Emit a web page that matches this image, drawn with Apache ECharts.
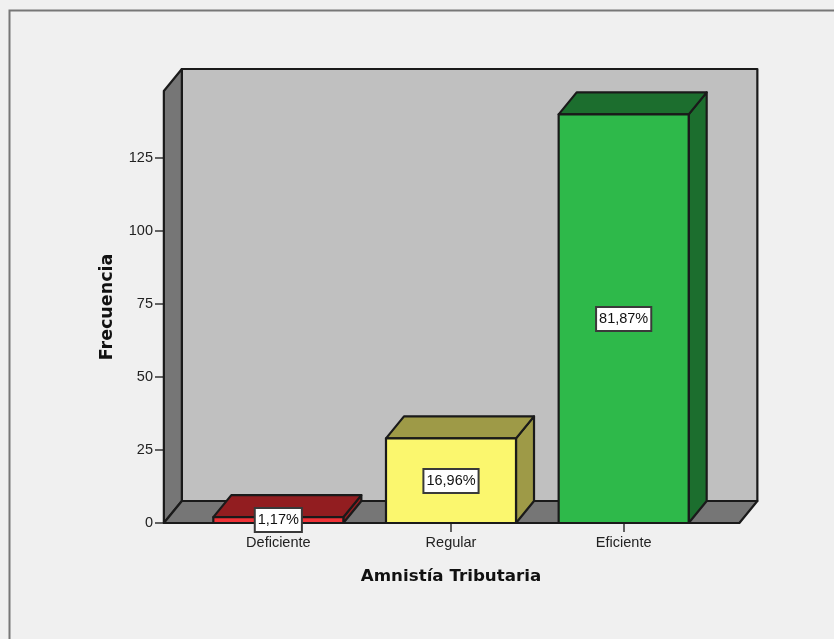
<!DOCTYPE html>
<html>
<head>
<meta charset="utf-8">
<style>html,body{margin:0;padding:0;background:#f0f0f0;overflow:hidden}#c{width:834px;height:639px}</style>
<script src="https://cdn.jsdelivr.net/npm/echarts@6/dist/echarts.min.js"></script>
</head>
<body>
<div id="c"></div>
<script>
const categories = ['Deficiente', 'Regular', 'Eficiente'];
const frequencies = [2, 29, 140];
const percentLabels = ['1,17%', '16,96%', '81,87%'];
const yTicks = [0, 25, 50, 75, 100, 125];
const yMax = 148;
const frontColors = ['#f03237', '#fbf76e', '#2eb94a'];
const darkColors = ['#921d20', '#9e9a47', '#1c6e2e'];

const DX = 18, DY = -22, INK = '#1a1a1a';
const chart = echarts.init(document.getElementById('c'), null, {renderer: 'canvas'});

function poly(points, fill) {
  return {type: 'polygon', shape: {points}, style: {fill, stroke: INK, lineWidth: 2.2, lineJoin: 'round'}};
}

function renderRoom(params, api) {
  const band = api.size([1, 0])[0];
  const a = api.coord([0, 0]), b = api.coord([2, 0]), t = api.coord([0, yMax]);
  const l = a[0] - band * 0.663, r = b[0] + band * 0.67, y0 = a[1], y1 = t[1];
  return {type: 'group', children: [
    poly([[l + DX, y0 + DY], [r + DX, y0 + DY], [r + DX, y1 + DY], [l + DX, y1 + DY]], '#c0c0c0'),
    poly([[l, y0], [l + DX, y0 + DY], [l + DX, y1 + DY], [l, y1]], '#767676'),
    poly([[l, y0], [r, y0], [r + DX, y0 + DY], [l + DX, y0 + DY]], '#767676')
  ]};
}

function renderBar(params, api) {
  const i = params.dataIndex;
  const band = api.size([1, 0])[0], w = band * 0.753;
  const c = api.coord([api.value(0), 0]), top = api.coord([api.value(0), api.value(1)]);
  const mid = api.coord([api.value(0), api.value(1) / 2]);
  const l = c[0] - w / 2, r = c[0] + w / 2, y0 = c[1], y1 = top[1];
  return {type: 'group', children: [
    poly([[r, y0], [r + DX, y0 + DY], [r + DX, y1 + DY], [r, y1]], darkColors[i]),
    poly([[l, y1], [r, y1], [r + DX, y1 + DY], [l + DX, y1 + DY]], darkColors[i]),
    poly([[l, y0], [r, y0], [r, y1], [l, y1]], frontColors[i]),
    {type: 'text', x: c[0], y: Math.round(mid[1]), z2: 10, style: {
      text: percentLabels[i], fill: '#111', font: '14.5px "Liberation Sans", Arial, sans-serif',
      align: 'center', verticalAlign: 'middle', backgroundColor: '#fff',
      borderColor: '#3a3a3a', borderWidth: 2, padding: [4, 2, 3, 2]
    }}
  ]};
}

chart.setOption({
  animation: false,
  backgroundColor: '#f0f0f0',
  grid: {left: 192, width: 518, top: 91, height: 432, containLabel: false},
  xAxis: {
    type: 'category', data: categories, name: 'Amnistía Tributaria', nameLocation: 'middle', nameGap: 45,
    nameTextStyle: {fontFamily: 'DejaVu Sans', fontWeight: 'bold', fontSize: 16.7, color: '#111'},
    axisLine: {show: false},
    axisTick: {show: true, alignWithLabel: true, length: 9, lineStyle: {color: '#333', width: 1.5}},
    axisLabel: {fontFamily: 'Liberation Sans', fontSize: 14.5, color: '#222', margin: 12}
  },
  yAxis: {
    type: 'value', min: 0, max: yMax, interval: 25, offset: 28,
    name: 'Frecuencia', nameLocation: 'middle', nameGap: 48,
    nameTextStyle: {fontFamily: 'DejaVu Sans', fontWeight: 'bold', fontSize: 17.5, color: '#111'},
    splitLine: {show: false},
    axisLine: {show: false},
    axisTick: {show: true, length: 9, customValues: yTicks, lineStyle: {color: '#333', width: 1.5}},
    axisLabel: {fontFamily: 'Liberation Sans', fontSize: 14.5, color: '#222', margin: 11, customValues: yTicks}
  },
  series: [
    {type: 'custom', name: 'room', z: 1, silent: true, renderItem: renderRoom, data: [[0, 0]], clip: false},
    {type: 'custom', name: 'Frecuencia', z: 2, renderItem: renderBar, clip: false,
     encode: {x: 0, y: 1}, data: frequencies.map((v, i) => [i, v])}
  ],
  graphic: [{type: 'polyline', z: 100, silent: true, shape: {points: [[9.5, 639], [9.5, 10.5], [834, 10.5]]},
    style: {stroke: '#777', lineWidth: 2, fill: null}}]
});
</script>
</body>
</html>
